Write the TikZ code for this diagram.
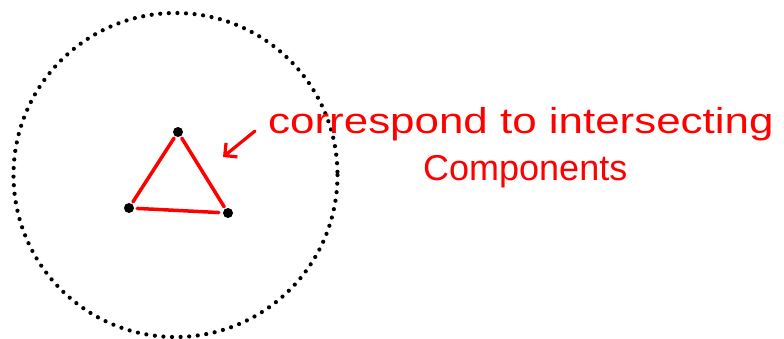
\documentclass[tikz,border=0pt]{standalone}
\usepackage{fontspec}
\setmainfont{Liberation Sans}
\usetikzlibrary{arrows.meta}
\begin{document}
\begin{tikzpicture}[x=1pt,y=-1pt,
  vdot/.style={circle,fill=black,inner sep=0pt,minimum size=10pt},
  edge/.style={draw=red,line width=3.5pt,line cap=round},
  handtext/.style={text=red,inner sep=0pt,font=\fontsize{36}{40}\selectfont},
  dotcirc/.style={draw=black,line width=4.2pt,line cap=round,dash pattern=on 0pt off 8.6pt}]
\useasboundingbox (0,0) rectangle (784,338);
\draw[dotcirc] (175.5,175) circle[radius=162];
\node[vdot] (vt) at (178,132) {};
\node[vdot] (vl) at (129,208) {};
\node[vdot] (vr) at (228,213) {};
\draw[edge,shorten <=2pt,shorten >=2pt] (vt) -- (vl);
\draw[edge,shorten <=2pt,shorten >=2pt] (vt) -- (vr);
\draw[edge,shorten <=3pt,shorten >=4pt] (vl) -- (vr);
\coordinate (as) at (255,131);
\coordinate (ae) at (223,157);
\draw[red,line width=3.2pt,line cap=round,-{Straight Barb[length=9pt,width=18pt,line width=3.2pt]}] (as) -- (ae);
\node[handtext,anchor=base west] (l1) at (268,133) {\scalebox{1.22}[1]{correspond to intersecting}};
\node[handtext,anchor=base west] (l2) at (423,180) {Components};
\end{tikzpicture}
\end{document}
